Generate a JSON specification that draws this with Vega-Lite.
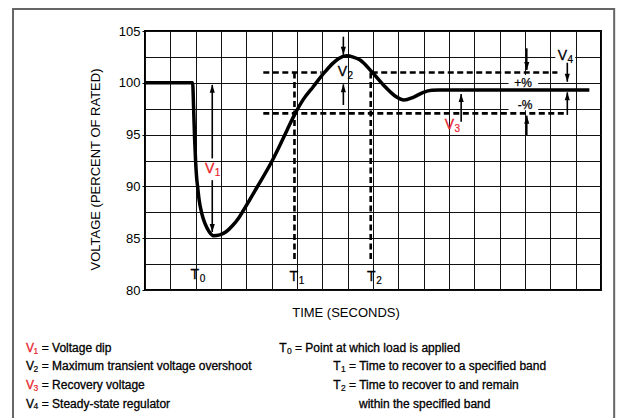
{
  "$schema": "https://vega.github.io/schema/vega-lite/v6.json",
  "width": 456,
  "height": 259,
  "autosize": {"type": "none"},
  "padding": {"left": 145, "top": 31, "right": 16, "bottom": 128},
  "background": "white",
  "config": {
    "view": {"stroke": "black", "strokeWidth": 2},
    "font": "Liberation Sans",
    "axis": {"gridColor": "#111111", "gridWidth": 1, "gridOpacity": 1}
  },
  "datasets": {
    "curve": [
      {"x": 0, "y": 100}, {"x": 1.88, "y": 100}, {"x": 1.92, "y": 97.5}, {"x": 1.96, "y": 94.5},
      {"x": 2.0, "y": 92.3}, {"x": 2.04, "y": 90.8}, {"x": 2.08, "y": 89.9}, {"x": 2.13, "y": 88.8},
      {"x": 2.24, "y": 87.4}, {"x": 2.37, "y": 86.4}, {"x": 2.54, "y": 85.6}, {"x": 2.7, "y": 85.24},
      {"x": 2.95, "y": 85.32}, {"x": 3.2, "y": 85.62}, {"x": 3.45, "y": 86.2}, {"x": 3.7, "y": 86.95},
      {"x": 3.95, "y": 87.95}, {"x": 4.41, "y": 89.87}, {"x": 5.0, "y": 92.38}, {"x": 5.33, "y": 94.0},
      {"x": 5.62, "y": 95.5}, {"x": 5.92, "y": 97.0}, {"x": 6.25, "y": 98.4}, {"x": 6.64, "y": 99.62},
      {"x": 7.11, "y": 101.07}, {"x": 7.4, "y": 101.85}, {"x": 7.65, "y": 102.35}, {"x": 7.96, "y": 102.6},
      {"x": 8.22, "y": 102.48}, {"x": 8.49, "y": 102.2}, {"x": 8.95, "y": 101.07}, {"x": 9.41, "y": 99.79},
      {"x": 9.87, "y": 98.73}, {"x": 10.22, "y": 98.34}, {"x": 10.59, "y": 98.6}, {"x": 10.99, "y": 99.08},
      {"x": 11.32, "y": 99.27}, {"x": 11.6, "y": 99.3}, {"x": 17.54, "y": 99.3}
    ],
    "dashes": [
      {"x": 4.67, "x2": 6.97, "y": 101, "y2": 101},
      {"x": 8.95, "x2": 16.28, "y": 101, "y2": 101},
      {"x": 4.67, "x2": 16.67, "y": 97.05, "y2": 97.05},
      {"x": 5.9, "x2": 5.9, "y": 101, "y2": 82.9},
      {"x": 8.91, "x2": 8.91, "y": 101, "y2": 82.9}
    ],
    "arrows": [
      {"x": 2.655, "y": 92.7, "y2": 99.8, "dir": "up"},
      {"x": 2.655, "y": 90.6, "y2": 85.6, "dir": "down"},
      {"x": 7.83, "y": 104.45, "y2": 102.7, "dir": "down"},
      {"x": 7.83, "y": 97.86, "y2": 99.85, "dir": "up"},
      {"x": 15.07, "y": 103.33, "y2": 101.24, "dir": "down"},
      {"x": 15.07, "y": 94.96, "y2": 96.83, "dir": "up"},
      {"x": 16.67, "y": 101.94, "y2": 100.1, "dir": "down"},
      {"x": 16.67, "y": 96.9, "y2": 99.08, "dir": "up"},
      {"x": 12.48, "y": 96.25, "y2": 98.92, "dir": "up"}
    ],
    "labels": [
      {"x": 2.553, "y": 91.66, "t": "V", "s": "1"},
      {"x": 7.796, "y": 101.04, "t": "V", "s": "2"},
      {"x": 12.02, "y": 95.97, "t": "V", "s": "3"},
      {"x": 16.48, "y": 102.61, "t": "V", "s": "4"},
      {"x": 1.962, "y": 81.42, "t": "T", "s": "0"},
      {"x": 5.87, "y": 81.28, "t": "T", "s": "1"},
      {"x": 8.93, "y": 81.28, "t": "T", "s": "2"}
    ],
    "pct": [
      {"x": 14.92, "y": 100.01, "t": "+%"},
      {"x": 15.0, "y": 97.88, "t": "-%"}
    ],
    "bg": [
      {"x": 14.35, "x2": 15.52, "y": 97.35, "y2": 100.75},
      {"x": 16.2, "x2": 16.98, "y": 101.8, "y2": 103.3}
    ],
    "frame": [
      {"x": -5.21, "x2": 18.52, "y": 107.12, "y2": 66}
    ],
    "legend": [
      {"x": -4.697, "y": 74.37, "sym": "V", "sub": "1", "desc": "= Voltage dip"},
      {"x": -4.697, "y": 72.62, "sym": "V", "sub": "2", "desc": "= Maximum transient voltage overshoot"},
      {"x": -4.697, "y": 70.83, "sym": "V", "sub": "3", "desc": "= Recovery voltage"},
      {"x": -4.697, "y": 69.0, "sym": "V", "sub": "4", "desc": "= Steady-state regulator"},
      {"x": 5.301, "y": 74.37, "sym": "T", "sub": "0", "desc": "= Point at which load is applied"},
      {"x": 7.433, "y": 72.62, "sym": "T", "sub": "1", "desc": "= Time to recover to a specified band"},
      {"x": 7.433, "y": 70.83, "sym": "T", "sub": "2", "desc": "= Time to recover to and remain"},
      {"x": 7.828, "y": 69.0, "sym": "", "sub": "", "desc": "within the specified band"}
    ]
  },
  "encoding": {
    "x": {
      "field": "x", "type": "quantitative",
      "scale": {"domain": [0, 18], "nice": false, "zero": false},
      "axis": {
        "values": [0, 1, 2, 3, 4, 5, 6, 7, 8, 9, 10, 11, 12, 13, 14, 15, 16, 17, 18],
        "grid": true, "labels": false, "ticks": false, "domain": false,
        "title": "TIME (SECONDS)", "titleFont": "Liberation Sans", "titleFontSize": 13,
        "titleFontWeight": "normal", "titleColor": "black",
        "titleX": 200.5, "titleY": 22, "titleBaseline": "middle", "titleAlign": "center"
      }
    },
    "y": {
      "field": "y", "type": "quantitative",
      "scale": {"domain": [80, 105], "nice": false, "zero": false},
      "axis": {
        "values": [80, 82.5, 85, 87.5, 90, 92.5, 95, 97.5, 100, 102.5, 105],
        "grid": true, "domain": false,
        "labelExpr": "datum.value % 5 === 0 ? datum.label : ''",
        "labelFont": "Liberation Sans", "labelFontSize": 13, "labelColor": "black", "labelPadding": 2,
        "labelFlush": false, "labelOverlap": false,
        "tickSize": 3, "tickColor": "black",
        "tickOpacity": {"condition": {"test": "datum.value % 5 !== 0", "value": 0}, "value": 1},
        "title": "VOLTAGE (PERCENT OF RATED)", "titleFont": "Liberation Sans", "titleFontSize": 13,
        "titleFontWeight": "normal", "titleColor": "black",
        "titleX": -50, "titleY": 138, "titleAngle": -90, "titleBaseline": "middle", "titleAlign": "center"
      }
    }
  },
  "layer": [
    {
      "data": {"name": "frame"},
      "mark": {"type": "rect", "fill": "white", "fillOpacity": 0, "stroke": "#666666", "strokeWidth": 2},
      "encoding": {"x2": {"field": "x2"}, "y2": {"field": "y2"}}
    },
    {
      "data": {"name": "bg"},
      "mark": {"type": "rect", "fill": "white", "strokeWidth": 0},
      "encoding": {"x2": {"field": "x2"}, "y2": {"field": "y2"}}
    },
    {
      "data": {"name": "dashes"},
      "mark": {"type": "rule", "color": "black", "strokeWidth": 2.6, "strokeDash": [6, 3.5], "strokeCap": "butt"},
      "encoding": {"x2": {"field": "x2"}, "y2": {"field": "y2"}}
    },
    {
      "data": {"name": "curve"},
      "mark": {"type": "line", "color": "black", "strokeWidth": 3.5, "interpolate": "monotone"},
      "encoding": {}
    },
    {
      "data": {"name": "arrows"},
      "mark": {"type": "rule", "color": "black", "strokeWidth": 1.6},
      "encoding": {"y2": {"field": "y2"}}
    },
    {
      "data": {"name": "arrows"},
      "mark": {"type": "point", "filled": true, "color": "black", "opacity": 1, "size": 256, "strokeWidth": 0},
      "encoding": {
        "y": {"field": "y2", "type": "quantitative"},
        "shape": {"field": "dir", "type": "nominal", "legend": null,
          "scale": {"domain": ["up", "down"], "range": ["M0,0L0.32,1L-0.32,1Z", "M0,0L0.32,-1L-0.32,-1Z"]}}
      }
    },
    {
      "data": {"name": "labels"},
      "mark": {"type": "text", "fontSize": 14, "align": "center", "baseline": "middle", "font": "Liberation Sans", "strokeWidth": 0.3},
      "encoding": {
        "text": {"field": "t"},
        "color": {"condition": {"test": "datum.t === 'V' && (datum.s === '1' || datum.s === '3')", "value": "#e8222b"}, "value": "black"},
        "stroke": {"condition": {"test": "datum.t === 'V' && (datum.s === '1' || datum.s === '3')", "value": "#e8222b"}, "value": "black"}
      }
    },
    {
      "data": {"name": "labels"},
      "mark": {"type": "text", "fontSize": 10, "align": "center", "baseline": "middle", "dx": 7.8, "dy": 4, "font": "Liberation Sans", "strokeWidth": 0.2},
      "encoding": {
        "text": {"field": "s"},
        "color": {"condition": {"test": "datum.t === 'V' && (datum.s === '1' || datum.s === '3')", "value": "#e8222b"}, "value": "black"},
        "stroke": {"condition": {"test": "datum.t === 'V' && (datum.s === '1' || datum.s === '3')", "value": "#e8222b"}, "value": "black"}
      }
    },
    {
      "data": {"name": "pct"},
      "mark": {"type": "text", "fontSize": 12, "align": "center", "baseline": "middle", "color": "black", "stroke": "black", "strokeWidth": 0.25, "font": "Liberation Sans"},
      "encoding": {"text": {"field": "t"}}
    },
    {
      "data": {"name": "legend"},
      "mark": {"type": "text", "fontSize": 12, "align": "left", "baseline": "middle", "font": "Liberation Sans", "strokeWidth": 0.3},
      "encoding": {
        "text": {"field": "sym"},
        "color": {"condition": {"test": "datum.sym === 'V' && (datum.sub === '1' || datum.sub === '3')", "value": "#e8222b"}, "value": "black"},
        "stroke": {"condition": {"test": "datum.sym === 'V' && (datum.sub === '1' || datum.sub === '3')", "value": "#e8222b"}, "value": "black"}
      }
    },
    {
      "data": {"name": "legend"},
      "mark": {"type": "text", "fontSize": 8.5, "align": "left", "baseline": "middle", "dx": 7.6, "dy": 2.5, "font": "Liberation Sans", "strokeWidth": 0.2},
      "encoding": {
        "text": {"field": "sub"},
        "color": {"condition": {"test": "datum.sym === 'V' && (datum.sub === '1' || datum.sub === '3')", "value": "#e8222b"}, "value": "black"},
        "stroke": {"condition": {"test": "datum.sym === 'V' && (datum.sub === '1' || datum.sub === '3')", "value": "#e8222b"}, "value": "black"}
      }
    },
    {
      "data": {"name": "legend"},
      "mark": {"type": "text", "fontSize": 12, "align": "left", "baseline": "middle", "dx": 15.7, "color": "black", "stroke": "black", "strokeWidth": 0.3, "font": "Liberation Sans"},
      "encoding": {"text": {"field": "desc"}}
    }
  ]
}
